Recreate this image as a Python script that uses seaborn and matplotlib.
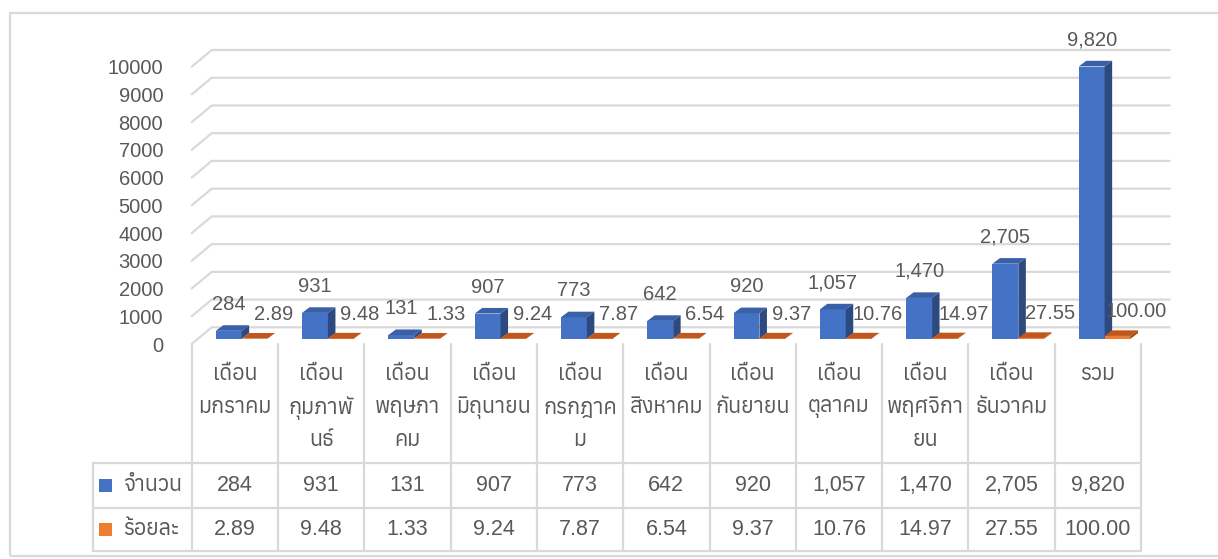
import pandas as pd
import seaborn as sns
import matplotlib.pyplot as plt
from matplotlib import font_manager
from matplotlib.ft2font import FT2Font
from matplotlib.patches import Polygon, Rectangle
from matplotlib.transforms import offset_copy

# ---- data -------------------------------------------------------------
months = [
    "เดือน\nมกราคม", "เดือน\nกุมภาพั\nนธ์", "เดือน\nพฤษภา\nคม", "เดือน\nมิถุนายน",
    "เดือน\nกรกฎาค\nม", "เดือน\nสิงหาคม", "เดือน\nกันยายน", "เดือน\nตุลาคม",
    "เดือน\nพฤศจิกา\nยน", "เดือน\nธันวาคม", "รวม",
]
counts = [284, 931, 131, 907, 773, 642, 920, 1057, 1470, 2705, 9820]
percents = [2.89, 9.48, 1.33, 9.24, 7.87, 6.54, 9.37, 10.76, 14.97, 27.55, 100.00]
series_names = ["จำนวน", "ร้อยละ"]
y_ticks = list(range(0, 10001, 1000))

BLUE, BLUE_TOP, BLUE_SIDE = "#4472C4", "#3A60A8", "#2C4A80"
ORANGE, ORANGE_TOP, ORANGE_SIDE = "#ED7D31", "#C0571C", "#9E4712"
GRID = "#D9D9D9"
TXT = "#595959"


def find_thai_font():
    """Return the name of an installed font that has Thai glyphs, if any."""
    found = []
    for f in font_manager.fontManager.ttflist:
        try:
            if 0x0E01 in FT2Font(f.fname).get_charmap():
                regular = f.style == "normal" and f.weight in (400, "normal", "regular")
                found.append((not regular, f.name))
        except Exception:
            pass
    return sorted(found)[0][1] if found else None


sns.set_style("white")
thai = find_thai_font()
plt.rcParams["font.family"] = ["Liberation Sans"] + ([thai] if thai else []) + ["DejaVu Sans"]

W, H = 1218, 559
fig = plt.figure(figsize=(W / 100, H / 100), dpi=100)

# pixel layout of the front plane of the chart
X_LEFT, X_RIGHT = 191.7, 1141.0
Y_ZERO, Y_TOP = 344.0, 66.7
TABLE_BOTTOM = 551.0
px_x = (X_RIGHT - X_LEFT) / 11          # pixels per category
px_y = (Y_ZERO - Y_TOP) / 10000         # pixels per unit

ax = fig.add_axes([X_LEFT / W, (H - Y_ZERO) / H, (X_RIGHT - X_LEFT) / W, (Y_ZERO - Y_TOP) / H])

df = pd.DataFrame({
    "month": months * 2,
    "series": [series_names[0]] * len(months) + [series_names[1]] * len(months),
    "value": counts + percents,
})
sns.barplot(data=df, x="month", y="value", hue="series", palette=[BLUE, ORANGE],
            width=0.6, saturation=1, errorbar=None, legend=False, ax=ax, zorder=3)

ax.set_xlim(-0.5, 10.5)
ax.set_ylim(0, 10000)
ax.set_xlabel("")
ax.set_ylabel("")
ax.set_xticks([])
ax.set_yticks(y_ticks)
ax.set_yticklabels([str(t) for t in y_ticks])
ax.tick_params(axis="y", length=0, pad=20.5, labelsize=14.5, labelcolor=TXT)
for s in ax.spines.values():
    s.set_visible(False)
ax.patch.set_alpha(0)

# back wall gridlines + side wall diagonals (depth of the 3D box)
wall_dx, wall_dy = 20 / px_x, 16.7 / px_y
for t in y_ticks:
    ax.plot([-0.5, -0.5 + wall_dx, 10.5 + wall_dx + 0.1], [t, t + wall_dy, t + wall_dy],
            color=GRID, lw=1.6, zorder=1, clip_on=False)

# bars sit a third of the way into the box
bar_tr = offset_copy(ax.transData, fig=fig, x=6.8, y=5.3, units="dots")
bar_dx, bar_dy = 7.5 / px_x, 5.6 / px_y

for p in list(ax.patches):
    x0, w, h = p.get_x(), p.get_width(), p.get_height()
    is_count = (x0 + w / 2) < round(x0 + w / 2)
    top_c, side_c = (BLUE_TOP, BLUE_SIDE) if is_count else (ORANGE_TOP, ORANGE_SIDE)
    p.set_transform(bar_tr)
    p.set_edgecolor("none")
    top = [(x0, h), (x0 + w, h), (x0 + w + bar_dx, h + bar_dy), (x0 + bar_dx, h + bar_dy)]
    side = [(x0 + w, 0), (x0 + w + bar_dx, bar_dy), (x0 + w + bar_dx, h + bar_dy), (x0 + w, h)]
    z = 3 if is_count else 4
    p.set_zorder(z)
    for verts, c in ((top, top_c), (side, side_c)):
        ax.add_patch(Polygon(verts, closed=True, facecolor=c, edgecolor="none",
                             transform=bar_tr, zorder=z, clip_on=False))
    if is_count:
        ax.text(x0 + w / 2, h, f"{h:,.0f}", ha="center", va="center", fontsize=14.5, color=TXT,
                transform=offset_copy(bar_tr, fig=fig, y=26.5, units="dots"), zorder=5)
    else:
        ax.text(x0 + w / 2, h, f"{h:.2f}", ha="center", va="center", fontsize=14.5, color=TXT,
                transform=offset_copy(bar_tr, fig=fig, x=19, y=24, units="dots"), zorder=5)

# ---- data table under the chart -------------------------------------
ax_t = fig.add_axes([X_LEFT / W, (H - TABLE_BOTTOM) / H, (X_RIGHT - X_LEFT) / W,
                     (TABLE_BOTTOM - Y_ZERO) / H])
ax_t.set_xlim(-0.5, 10.5)
ax_t.set_ylim(TABLE_BOTTOM - Y_ZERO, 0)
ax_t.axis("off")

row1, row2, bottom = 119, 164, TABLE_BOTTOM - Y_ZERO
legend_left = -0.5 - (X_LEFT - 93) / px_x
line_kw = dict(color=GRID, lw=1.6, clip_on=False)
for k in range(12):
    ax_t.plot([-0.5 + k, -0.5 + k], [0, bottom], **line_kw)
ax_t.plot([legend_left, legend_left], [row1, bottom], **line_kw)
for yy in (row1, row2, bottom):
    ax_t.plot([legend_left, 10.5], [yy, yy], **line_kw)

for i, label in enumerate(months):
    for j, part in enumerate(label.split("\n")):
        ax_t.text(i, 31 + 32.7 * j, part, ha="center", va="center", fontsize=15.5, color=TXT)
    ax_t.text(i, (row1 + row2) / 2, f"{counts[i]:,}", ha="center", va="center",
              fontsize=15.5, color=TXT)
    ax_t.text(i, (row2 + bottom) / 2, f"{percents[i]:.2f}", ha="center", va="center",
              fontsize=15.5, color=TXT)

key_x = -0.5 - (X_LEFT - 99) / px_x
text_x = -0.5 - (X_LEFT - 123) / px_x
for name, color, yc in ((series_names[0], BLUE, (row1 + row2) / 2),
                        (series_names[1], ORANGE, (row2 + bottom) / 2)):
    ax_t.add_patch(Rectangle((key_x, yc - 6.5), 13 / px_x, 13, facecolor=color,
                             edgecolor="none", clip_on=False))
    ax_t.text(text_x, yc, name, ha="left", va="center", fontsize=15.5, color=TXT)

# chart area border
fig.patches.append(Rectangle((10 / W, (H - 556) / H), 1.2, (556 - 13) / H, fill=False,
                             edgecolor=GRID, lw=1.6, transform=fig.transFigure))

fig.savefig("out.png", dpi=100)
